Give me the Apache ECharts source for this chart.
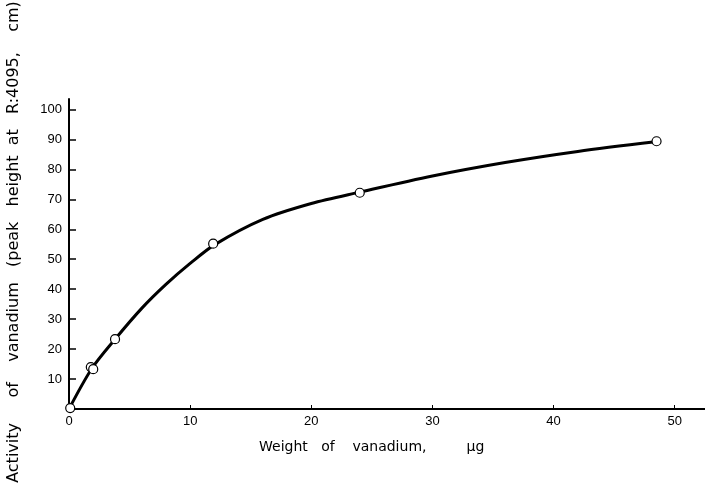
<!DOCTYPE html>
<html>
<head>
<meta charset="utf-8">
<script src="https://cdn.jsdelivr.net/npm/echarts@6/dist/echarts.min.js"></script>
<style>
  html, body { margin: 0; padding: 0; background: #fff; }
  #chart { width: 705px; height: 485px; }
</style>
</head>
<body>
<div id="chart"></div>
<script>
// measured points (weight in ug, activity in cm)
const pointX = [0.1, 1.8, 2.0, 3.8, 11.9, 24.0, 48.5];
const pointY = [0.3, 14.0, 13.3, 23.3, 55.2, 72.2, 89.4];

// hand-drawn curve
const curveX = [0, 1.9, 3.8, 6, 8, 10, 12, 16, 20, 24, 30, 36, 42, 48.4];
const curveY = [0, 13.6, 23.3, 33.6, 41.6, 48.6, 54.8, 63.3, 68.6, 72.4, 77.8, 82.3, 86.0, 89.2];

const xTicks = [0, 10, 20, 30, 40, 50];
const yTicks = [10, 20, 30, 40, 50, 60, 70, 80, 90, 100];

const xTitle = 'Weight   of    vanadium,         \u03bcg';
const yTitle = 'Activity     of    vanadium   (peak   height  at   R:4095,    cm)';

const font = 'Liberation Sans';
const titleFont = 'DejaVu Sans';

const chart = echarts.init(document.getElementById('chart'));

const option = {
  backgroundColor: '#fff',
  animation: false,
  grid: { left: 69, right: 0, top: 99, bottom: 76 },
  xAxis: {
    type: 'value',
    min: 0,
    max: 52.5,
    interval: 10,
    axisLine: { lineStyle: { color: '#000', width: 2 } },
    axisTick: { inside: true, length: 4, lineStyle: { color: '#000', width: 1 } },
    axisLabel: {
      color: '#000', fontFamily: font, fontSize: 13, margin: 6,
      showMaxLabel: false,
      formatter: v => xTicks.includes(v) ? String(v) : ''
    },
    splitLine: { show: false }
  },
  yAxis: {
    type: 'value',
    min: 0,
    max: 103.5,
    interval: 10,
    axisLine: { show: true, lineStyle: { color: '#000', width: 2 } },
    axisTick: { show: true, inside: true, length: 7, lineStyle: { color: '#000', width: 1.5 } },
    axisLabel: {
      color: '#000', fontFamily: font, fontSize: 13, margin: 7,
      showMaxLabel: false,
      formatter: v => yTicks.includes(v) ? String(v) : ''
    },
    splitLine: { show: false }
  },
  graphic: [
    {
      type: 'text', x: 259, y: 447,
      style: { text: xTitle, fill: '#000', font: '14px "' + titleFont + '"', verticalAlign: 'middle' }
    },
    {
      type: 'text', x: 14, y: 242, rotation: Math.PI / 2,
      style: { text: yTitle, fill: '#000', font: '16px "' + titleFont + '"', align: 'center', verticalAlign: 'middle' }
    }
  ],
  series: [
    {
      type: 'line',
      data: curveX.map((x, i) => [x, curveY[i]]),
      smooth: 0.3,
      showSymbol: false,
      lineStyle: { color: '#000', width: 3 },
      z: 2
    },
    {
      type: 'scatter',
      data: pointX.map((x, i) => [x, pointY[i]]),
      symbol: 'circle',
      symbolSize: 9,
      itemStyle: { color: '#fff', borderColor: '#000', borderWidth: 1.2, opacity: 1 },
      z: 3
    }
  ]
};

chart.setOption(option);
</script>
</body>
</html>
